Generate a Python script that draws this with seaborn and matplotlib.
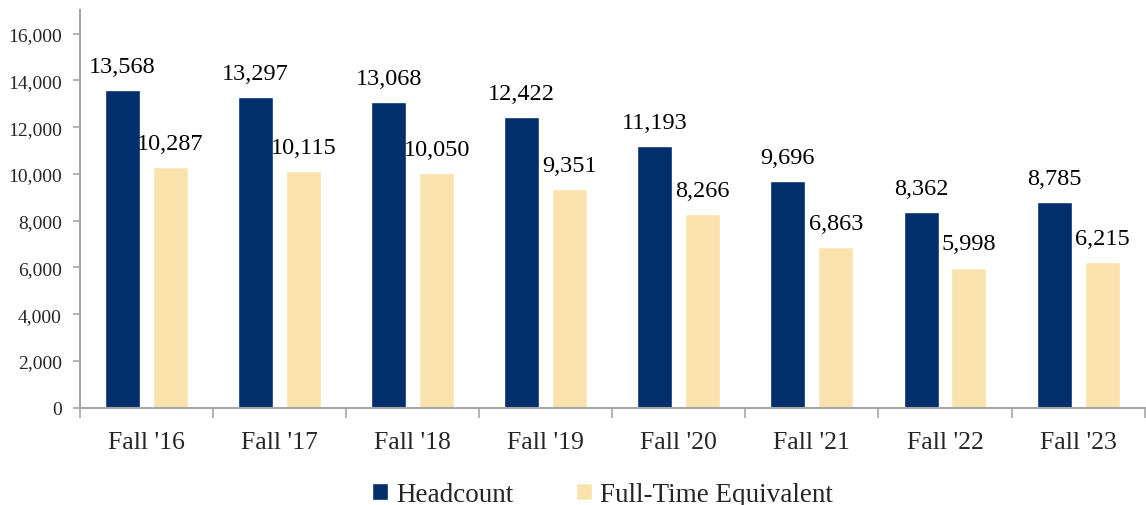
import matplotlib
matplotlib.use("Agg")
import matplotlib.pyplot as plt
import pandas as pd
import seaborn as sns
from matplotlib.ticker import FuncFormatter, FixedLocator

# enrollment numbers, fall terms
terms = ["Fall '16", "Fall '17", "Fall '18", "Fall '19", "Fall '20", "Fall '21", "Fall '22", "Fall '23"]
headcount = [13568, 13297, 13068, 12422, 11193, 9696, 8362, 8785]
fte = [10287, 10115, 10050, 9351, 8266, 6863, 5998, 6215]

df = pd.DataFrame({
    'term': terms * 2,
    'value': headcount + fte,
    'series': ['Headcount'] * len(terms) + ['Full-Time Equivalent'] * len(terms),
})

sns.set_style('white')
plt.rcParams['font.family'] = ['Liberation Serif', 'DejaVu Serif']

navy = '#002F6C'
tan = '#F9E2AC'
grey = '#A6A6A6'

fig = plt.figure(figsize=(11.46, 5.06), dpi=100)
ax = fig.add_axes([0.0698, 0.192, 0.929, 0.786])

sns.barplot(data=df, x='term', y='value', hue='series', palette=[navy, tan],
            width=0.72, gap=0.27, saturation=1, ax=ax, legend=True)

for cont in ax.containers:
    ax.bar_label(cont, labels=[f'{v:,.0f}' for v in cont.datavalues],
                 padding=9.5, fontsize=17.5, color='black')

ax.set_xlim(-0.5, 7.5)
ax.set_ylim(0, 17000)
ax.set_yticks(range(0, 16001, 2000))
ax.yaxis.set_major_formatter(FuncFormatter(lambda v, p: f'{v:,.0f}'))
ax.set_xlabel('')
ax.set_ylabel('')

ax.tick_params(axis='y', labelsize=14, length=5, width=1.2, color=grey, direction='out', left=True, pad=8)
ax.tick_params(axis='x', which='major', labelsize=18.5, length=0, pad=17)
ax.xaxis.set_minor_locator(FixedLocator([i - 0.5 for i in range(len(terms) + 1)]))
ax.tick_params(axis='x', which='minor', length=7, width=1.2, color=grey, direction='out', bottom=True)

for s in ['top', 'right']:
    ax.spines[s].set_visible(False)
for s in ['left', 'bottom']:
    ax.spines[s].set_color(grey)
    ax.spines[s].set_linewidth(1.5)

handles, labels = ax.get_legend_handles_labels()
ax.legend(handles, labels, loc='lower center', bbox_to_anchor=(0.491, -0.31), ncol=2,
          frameon=False, fontsize=19.5, handlelength=0.6, handleheight=0.6,
          handletextpad=0.3, columnspacing=2.3)

fig.savefig('out.png', dpi=100)
